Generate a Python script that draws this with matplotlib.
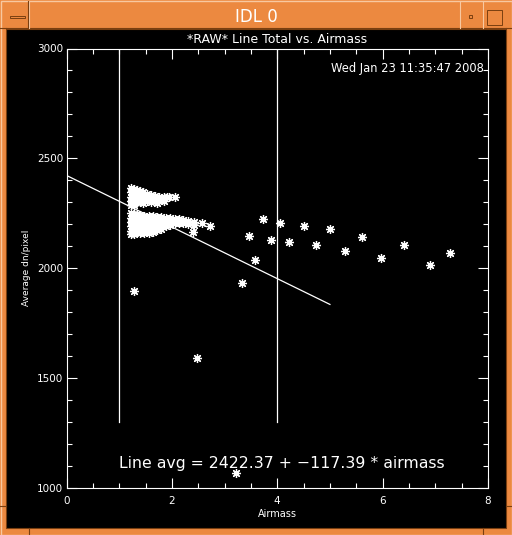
import matplotlib
matplotlib.use('Agg')
import matplotlib.pyplot as plt
from matplotlib.patches import Rectangle
from matplotlib.lines import Line2D
from matplotlib.ticker import MultipleLocator

# fit from the IDL plot
intercept = 2422.37
slope = -117.39
fit_x = [0.0, 5.0]

# airmass limits drawn as vertical lines
limit_x = [1.0, 4.0]
limit_y = [1300, 3000]

# dense cluster, upper band
upper_x = [1.22]*5 + [1.28]*5 + [1.34]*4 + [1.40]*4 + [1.46]*4 + [1.52]*3 + [1.60]*3 + \
          [1.68]*2 + [1.76]*2 + [1.85]*2 + [1.95, 2.05, 1.71, 1.81, 1.90]
upper_y = [2365, 2345, 2325, 2305, 2290,
           2360, 2340, 2320, 2300, 2290,
           2355, 2335, 2318, 2300,
           2350, 2332, 2315, 2300,
           2345, 2328, 2312, 2298,
           2340, 2322, 2305,
           2335, 2318, 2302,
           2330, 2312,
           2326, 2308,
           2322, 2305,
           2325, 2322, 2297, 2312, 2325]

# dense cluster, lower band
lower_x = [1.22]*6 + [1.28]*6 + [1.34]*5 + [1.40]*5 + [1.48]*5 + [1.56]*5 + [1.64]*5 + \
          [1.72]*4 + [1.80]*4 + [1.88]*3 + [1.96]*3 + [2.05]*2 + [2.14]*2 + [2.22]*2 + \
          [2.30]*2 + [2.42]*2 + [2.57, 2.72, 2.41]
lower_y = [2250, 2230, 2210, 2190, 2170, 2155,
           2248, 2228, 2208, 2188, 2168, 2155,
           2245, 2225, 2205, 2185, 2165,
           2244, 2222, 2202, 2182, 2162,
           2240, 2220, 2200, 2180, 2160,
           2238, 2218, 2198, 2178, 2162,
           2236, 2216, 2196, 2176, 2165,
           2234, 2214, 2194, 2175,
           2232, 2212, 2192, 2178,
           2230, 2210, 2192,
           2228, 2208, 2195,
           2226, 2206,
           2224, 2204,
           2220, 2205,
           2215, 2200,
           2212, 2195,
           2204, 2190, 2166]

# scattered measurements
single_x = [1.28, 2.48, 3.22, 3.34, 3.47, 3.58, 3.73, 3.88, 4.06, 4.23, 4.51, 4.74,
            5.01, 5.29, 5.61, 5.97, 6.41, 6.90, 7.28]
single_y = [1896, 1591, 1068, 1931, 2146, 2037, 2222, 2128, 2204, 2118, 2192, 2104,
            2177, 2078, 2141, 2045, 2104, 2013, 2069]

W, H = 512, 535
orange = '#ec8940'
light = '#f8c8a0'
dark = '#7a3f10'
fig = plt.figure(figsize=(W/100, H/100), dpi=100)
fig.patch.set_facecolor(orange)

def px_rect(x0, y0, x1, y1, **kw):
    # rectangle in pixel coords (origin top left), kept under the axes
    fig.add_artist(Rectangle((x0/W, 1 - y1/H), (x1-x0)/W, (y1-y0)/H,
                             transform=fig.transFigure, zorder=-5, **kw))

def px_line(xs, ys, c):
    fig.add_artist(Line2D([x/W for x in xs], [1 - y/H for y in ys], color=c, lw=0.8,
                          transform=fig.transFigure, zorder=-4))

# window frame
px_rect(0.5, 0.5, 511.5, 534.5, fill=False, ec=light, lw=1)
px_rect(6, 29, 506, 528, fc='black', ec=dark, lw=0.8)
px_line([6, 506], [28, 28], dark)
px_line([29, 29], [1, 28], light)
px_line([28, 28], [1, 28], dark)
px_line([460, 460], [1, 28], light)
px_line([483, 483], [1, 28], light)
# resize-corner marks on the border
px_line([0, 6], [28, 28], dark)
px_line([506, 512], [28, 28], dark)
px_line([0, 6], [506, 506], dark)
px_line([506, 512], [506, 506], dark)
px_line([29, 29], [528, 535], dark)
px_line([483, 483], [528, 535], dark)
px_rect(10, 15.5, 25, 18, fc=orange, ec=dark, lw=0.7)
px_rect(469, 15, 472, 18, fc=orange, ec=dark, lw=0.7)
px_rect(487, 10, 502, 25, fill=False, ec=dark, lw=0.7)
fig.text(256/W, 1 - 17/H, 'IDL 0', color='white', fontsize=12, ha='center', va='center')

ax = fig.add_axes([66.5/W, 1 - 488/H, (488-66.5)/W, (488-48.5)/H])
ax.set_facecolor('none')
ax.set_xlim(0, 8)
ax.set_ylim(1000, 3000)

for s in ax.spines.values():
    s.set_color('white')
    s.set_linewidth(0.8)
ax.xaxis.set_major_locator(MultipleLocator(2))
ax.xaxis.set_minor_locator(MultipleLocator(0.5))
ax.yaxis.set_major_locator(MultipleLocator(500))
ax.yaxis.set_minor_locator(MultipleLocator(100))
ax.tick_params(which='both', direction='in', colors='white', top=True, right=True,
               labelsize=7.5, width=0.8)
ax.tick_params(which='major', length=7)
ax.tick_params(axis='y', which='major', pad=2.5)
ax.tick_params(axis='x', which='major', pad=6)
ax.tick_params(which='minor', length=3.6)

for lx in limit_x:
    ax.plot([lx, lx], limit_y, color='white', lw=0.9)

ax.plot(fit_x, [intercept + slope*x for x in fit_x], color='white', lw=0.9)

star = (8, 2, 0)
ax.plot(upper_x, upper_y, ls='none', marker=star, ms=6.5, mec='white', mew=0.9)
ax.plot(lower_x, lower_y, ls='none', marker=star, ms=6.5, mec='white', mew=0.9)
ax.plot(single_x, single_y, ls='none', marker=star, ms=6.5, mec='white', mew=0.9)

ax.text(1.0, 1110, 'Line avg = 2422.37 + \u2212117.39 * airmass',
        color='white', fontsize=11.3, va='center')
ax.text(0.99, 0.955, 'Wed Jan 23 11:35:47 2008', transform=ax.transAxes, color='white',
        fontsize=8.3, ha='right', va='center')

ax.set_title('*RAW* Line Total vs. Airmass', color='white', fontsize=9, pad=4)
ax.set_xlabel('Airmass', color='white', fontsize=7, labelpad=2)
ax.set_ylabel('Average dn/pixel', color='white', fontsize=6.5, labelpad=4)

fig.savefig('out.png', dpi=100, facecolor=fig.get_facecolor())
